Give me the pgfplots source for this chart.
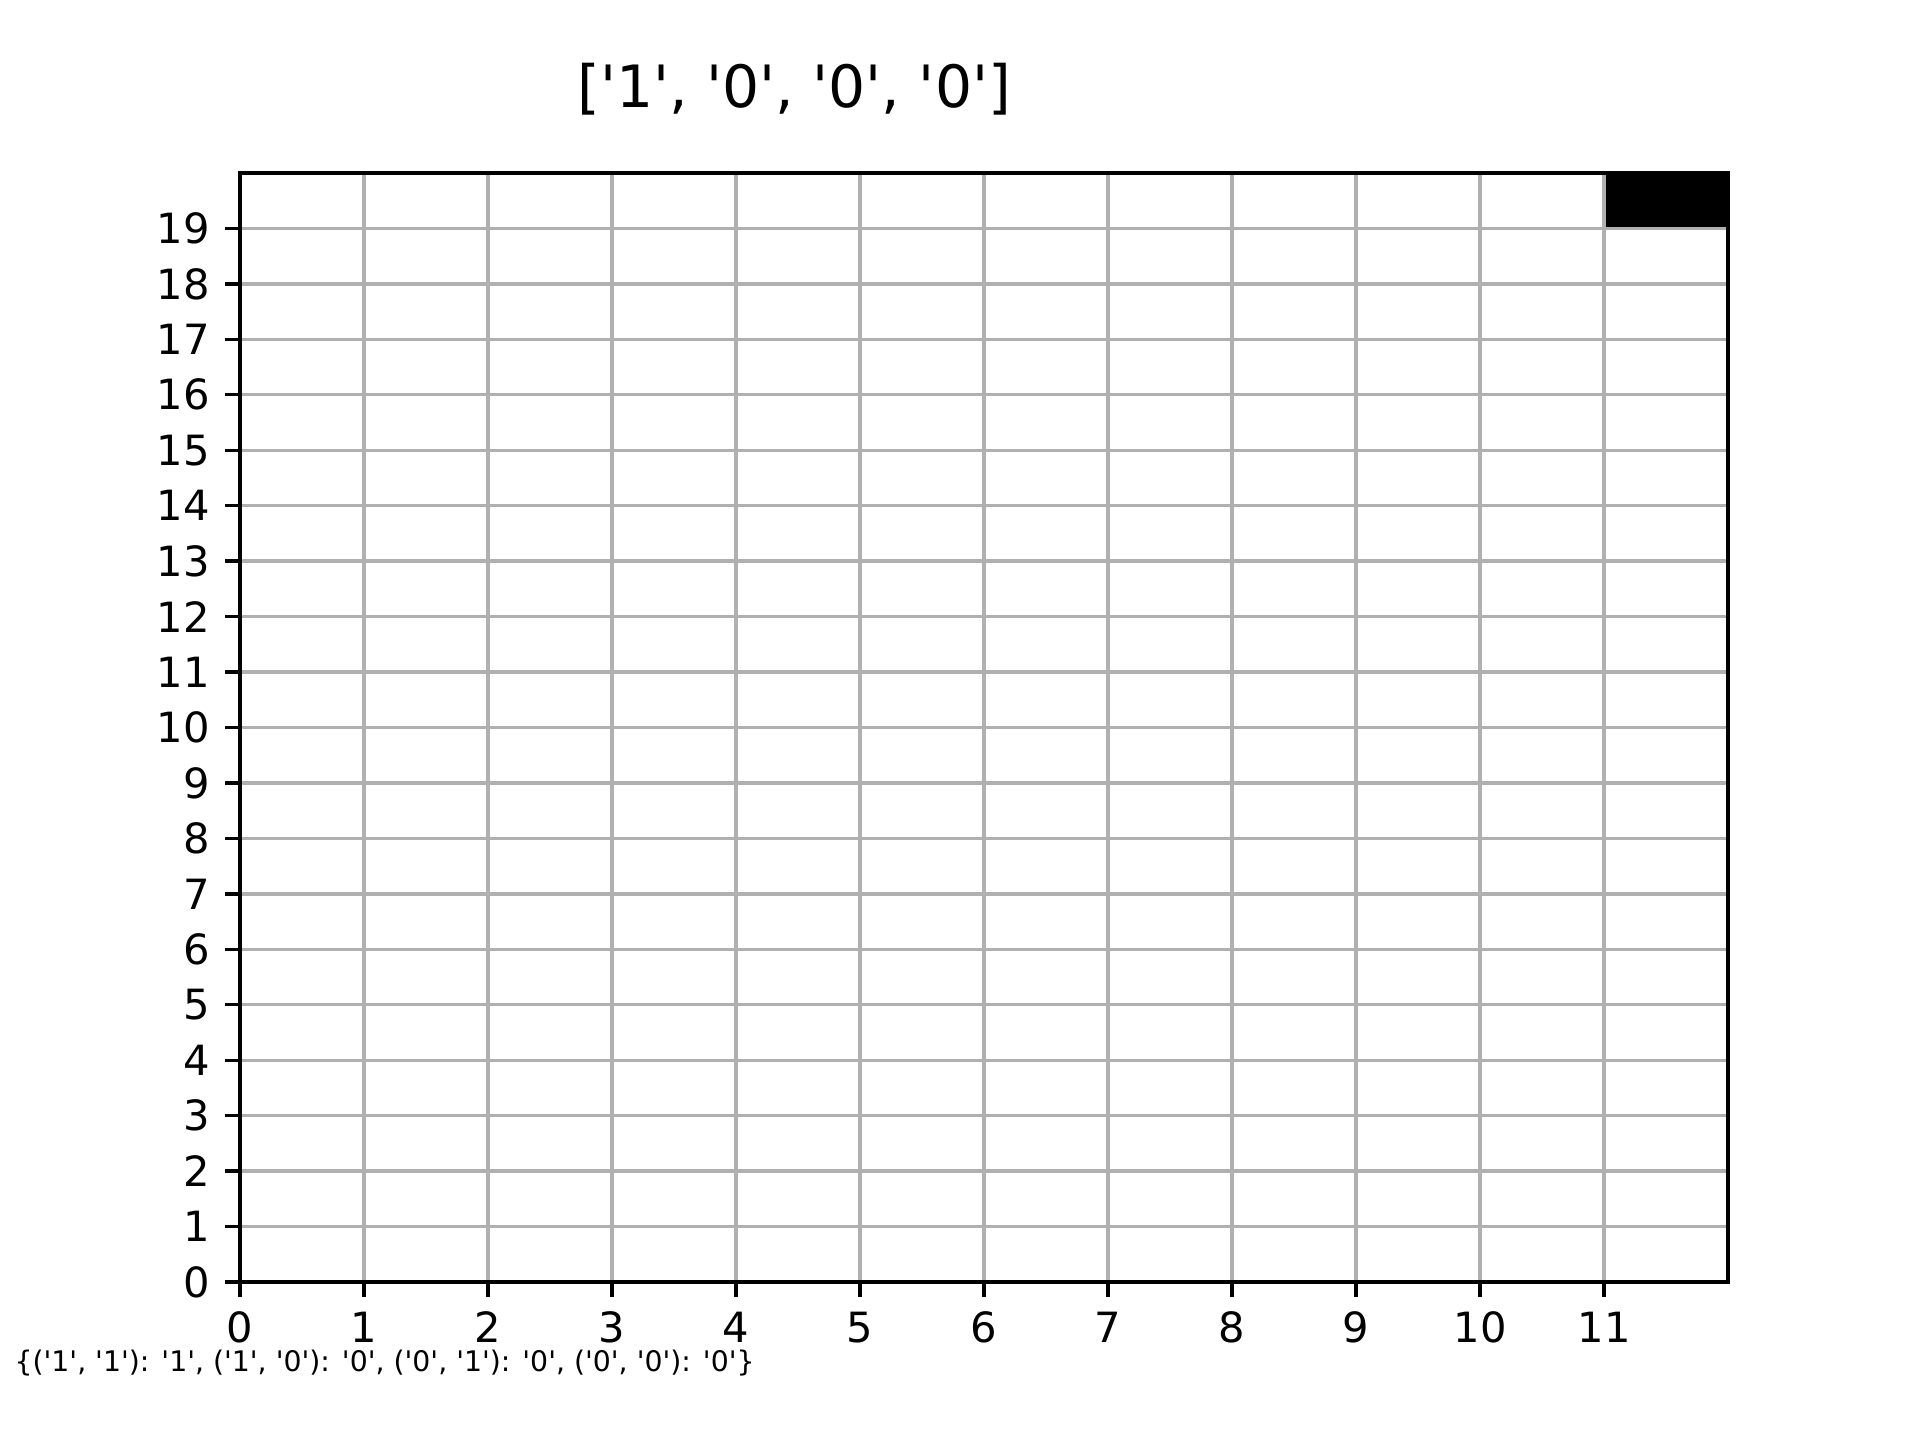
\documentclass[border=0pt]{standalone}
\usepackage{pgfplots}
\pgfplotsset{compat=1.18}
\usepackage{fontspec}
\setmainfont{DejaVu Sans}
\newfontfamily\dvq{DejaVu Sans}
\definecolor{gridgray}{HTML}{B0B0B0}
\begin{document}
\begin{tikzpicture}
\path[use as bounding box] (0,0) rectangle (460.8pt,345.6pt);
\begin{axis}[
  at={(57.6pt,37.92pt)}, anchor=south west,
  scale only axis, width=357.12pt, height=266.16pt,
  xmin=0, xmax=12, ymin=0, ymax=20,
  xtick={0,...,11}, ytick={0,...,19},
  xtick pos=bottom, ytick pos=left,
  tick align=outside, major tick length=3.5pt,
  every tick/.style={black, line width=0.8pt},
  axis line style={line width=0.8pt},
  grid=major, major grid style={gridgray, line width=0.8pt},
  axis on top,
  /pgf/number format/assume math mode=true,
  tick label style={font=\fontsize{10}{12}\selectfont, inner sep=0pt},
  xticklabel shift=3.5pt, yticklabel shift=3.5pt,
  clip=false,
]
\addplot[fill=black, draw=none] coordinates {(11,19) (12,19) (12,20) (11,20) (11,19)} -- cycle;
\end{axis}
\node[anchor=base, inner sep=0pt, font=\dvq\fontsize{14}{16.8}\selectfont] at (190.6pt,319.9pt) {['1', '0', '0', '0']};
\node[anchor=base west, inner sep=0pt, font=\dvq\fontsize{6.8}{8.2}\selectfont] at (3.3pt,16.4pt) {\{('1', '1'): '1', ('1', '0'): '0', ('0', '1'): '0', ('0', '0'): '0'\}};
\end{tikzpicture}
\end{document}
